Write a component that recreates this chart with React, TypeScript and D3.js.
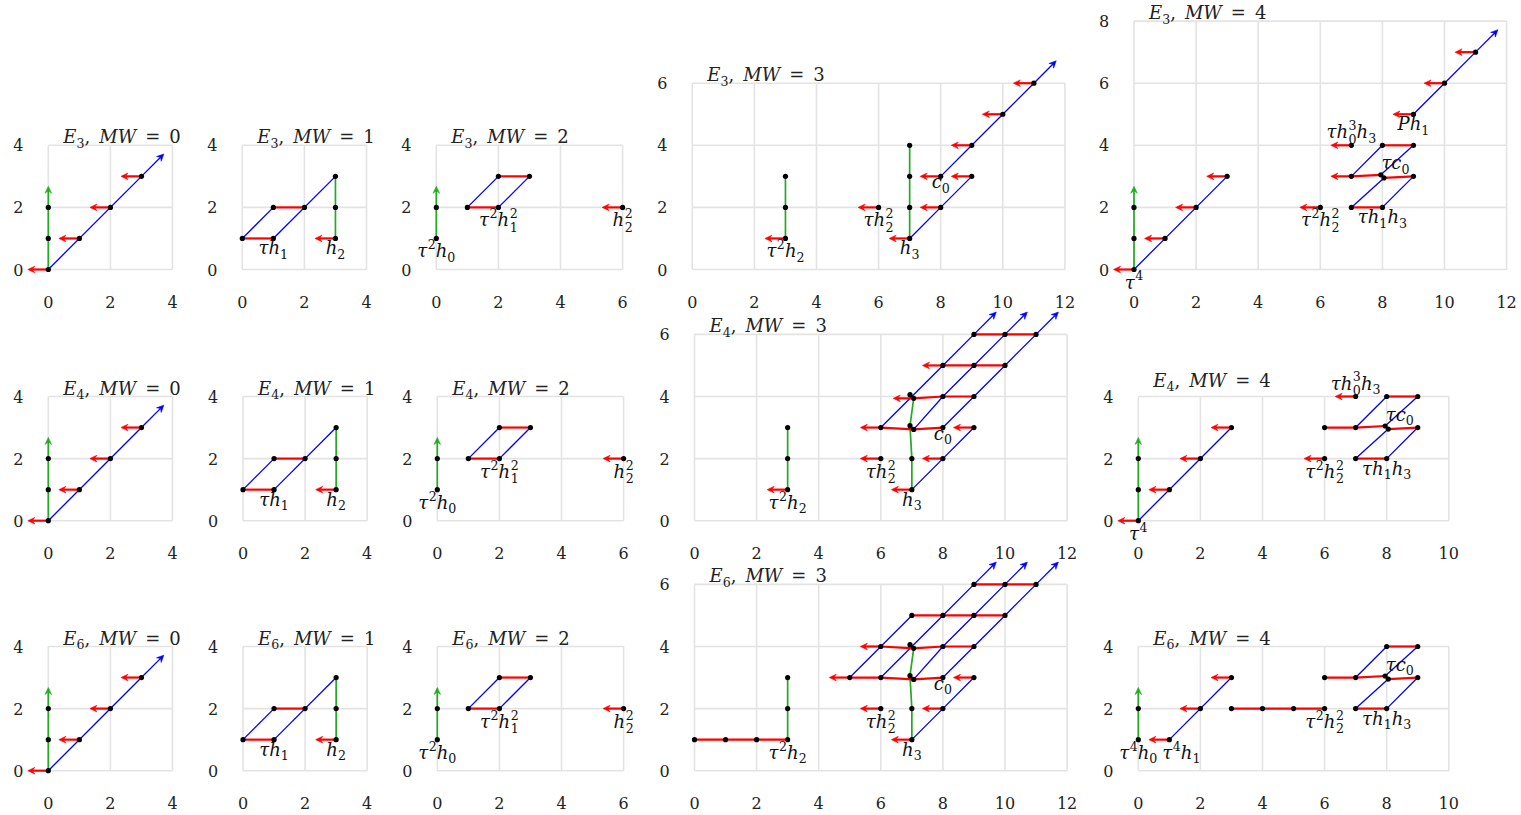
import React from 'react';
import * as d3 from 'd3';

type Pt = [number, number];
type Label = [number, number, string];

// two classes sharing one (stem, filtration) spot are drawn slightly apart
const A: Pt = [6.94, 3.06];
const B: Pt = [7.06, 2.94];
const C: Pt = [6.94, 4.06];
const D: Pt = [7.06, 3.94];
const P: Pt = [7.95, 3.05];
const Q: Pt = [8.05, 2.95];

// ---- MW = 0 (same on E3, E4, E6)
const mw0Dots: Pt[] = [[0, 0], [0, 1], [0, 2], [1, 1], [2, 2], [3, 3]];
const mw0Red: Pt[][] = [];
const mw0Blue: Pt[][] = [[[0, 0], [3, 3]]];
const mw0Green: Pt[][] = [[[0, 0], [0, 2]]];
const mw0RedArrows: Pt[] = [[0, 0], [1, 1], [2, 2], [3, 3]];
const mw0BlueArrows: Pt[] = [[3, 3]];
const mw0GreenArrows: Pt[] = [[0, 2]];
const mw0Labels: Label[] = [];

// ---- MW = 1
const mw1Dots: Pt[] = [[0, 1], [1, 1], [1, 2], [2, 2], [3, 1], [3, 2], [3, 3]];
const mw1Red: Pt[][] = [[[0, 1], [1, 1]], [[1, 2], [2, 2]]];
const mw1Blue: Pt[][] = [[[0, 1], [1, 2]], [[1, 1], [3, 3]]];
const mw1Green: Pt[][] = [[[3, 1], [3, 3]]];
const mw1RedArrows: Pt[] = [[3, 1]];
const mw1Labels: Label[] = [[1, 1, 'τh_1'], [3, 1, 'h_2']];

// ---- MW = 2
const mw2Dots: Pt[] = [[0, 1], [0, 2], [1, 2], [2, 2], [2, 3], [3, 3], [6, 2]];
const mw2Red: Pt[][] = [[[1, 2], [2, 2]], [[2, 3], [3, 3]]];
const mw2Blue: Pt[][] = [[[1, 2], [2, 3]], [[2, 2], [3, 3]]];
const mw2Green: Pt[][] = [[[0, 1], [0, 2]]];
const mw2RedArrows: Pt[] = [[6, 2]];
const mw2GreenArrows: Pt[] = [[0, 2]];
const mw2Labels: Label[] = [[0, 1, 'τ^2h_0'], [2, 2, 'τ^2h_1^2'], [6, 2, 'h_2^2']];

// ---- MW = 3
const mw3Labels: Label[] = [[3, 1, 'τ^2h_2'], [6, 2, 'τh_2^2'], [7, 1, 'h_3'], [8, 3, 'c_0']];

const e3mw3Dots: Pt[] = [[3, 1], [3, 2], [3, 3], [6, 2], [7, 1], [7, 2], [7, 3], [7, 4], [8, 2], [8, 3], [9, 3], [9, 4], [10, 5], [11, 6]];
const e3mw3Red: Pt[][] = [];
const e3mw3Blue: Pt[][] = [[[7, 1], [8, 2], [9, 3]], [[8, 3], [9, 4], [10, 5], [11, 6]]];
const e3mw3Green: Pt[][] = [[[3, 1], [3, 3]], [[7, 1], [7, 4]]];
const e3mw3RedArrows: Pt[] = [[3, 1], [6, 2], [7, 1], [8, 2], [8, 3], [9, 3], [9, 4], [10, 5], [11, 6]];
const e3mw3BlueArrows: Pt[] = [[11, 6]];

const e4mw3Dots: Pt[] = [[3, 1], [3, 2], [3, 3], [6, 2], [7, 1], [7, 2], [8, 2], [9, 3], [6, 3], A, B, [8, 3], C, D, [8, 4], [9, 4], [8, 5], [9, 5], [10, 5], [9, 6], [10, 6], [11, 6]];
const e4mw3Red: Pt[][] = [[[6, 3], B, [8, 3]], [D, [8, 4], [9, 4]], [[8, 5], [9, 5], [10, 5]], [[9, 6], [10, 6], [11, 6]]];
const e4mw3Blue: Pt[][] = [[[7, 1], [8, 2], [9, 3]], [[6, 3], [7, 4], [8, 5], [9, 6]], [B, [8, 4], [9, 5], [10, 6]], [[8, 3], [9, 4], [10, 5], [11, 6]]];
const e4mw3Green: Pt[][] = [[[3, 1], [3, 3]], [[7, 1], [7, 2], A, D]];
const e4mw3RedArrows: Pt[] = [[3, 1], [6, 2], [7, 1], [8, 2], [9, 3], [6, 3], D, [8, 5]];
const e4mw3BlueArrows: Pt[] = [[9, 6], [10, 6], [11, 6]];

const e6mw3Dots: Pt[] = [[0, 1], [1, 1], [2, 1], [3, 1], [3, 2], [3, 3], [5, 3], [6, 2], [6, 3], [6, 4], [7, 1], [7, 2], A, B, C, D, [7, 5], [8, 2], [8, 3], [8, 4], [8, 5], [9, 3], [9, 4], [9, 5], [9, 6], [10, 5], [10, 6], [11, 6]];
const e6mw3Red: Pt[][] = [[[0, 1], [1, 1], [2, 1], [3, 1]], [[5, 3], [6, 3], B, [8, 3]], [[6, 4], D, [8, 4], [9, 4]], [[7, 5], [8, 5], [9, 5], [10, 5]], [[9, 6], [10, 6], [11, 6]]];
const e6mw3Blue: Pt[][] = [[[7, 1], [8, 2], [9, 3]], [[5, 3], [6, 4], [7, 5]], [[6, 3], [7, 4], [8, 5], [9, 6]], [B, [8, 4], [9, 5], [10, 6]], [[8, 3], [9, 4], [10, 5], [11, 6]]];
const e6mw3Green: Pt[][] = [[[3, 1], [3, 3]], [[7, 1], [7, 2], A, D]];
const e6mw3RedArrows: Pt[] = [[5, 3], [6, 2], [6, 4], [7, 1], [8, 2], [9, 3]];
const e6mw3BlueArrows: Pt[] = [[9, 6], [10, 6], [11, 6]];

// ---- MW = 4
const e3mw4Dots: Pt[] = [[0, 0], [0, 1], [0, 2], [1, 1], [2, 2], [3, 3], [6, 2], [7, 2], [8, 2], [7, 3], P, Q, [9, 3], [7, 4], [8, 4], [9, 4], [9, 5], [10, 6], [11, 7]];
const e3mw4Red: Pt[][] = [[[7, 2], [8, 2]], [[7, 3], P], [Q, [9, 3]], [[8, 4], [9, 4]]];
const e3mw4Blue: Pt[][] = [[[0, 0], [3, 3]], [[7, 2], Q], [[8, 2], [9, 3]], [[7, 3], [8, 4]], [P, [9, 4]], [[9, 5], [10, 6], [11, 7]]];
const e3mw4Green: Pt[][] = [[[0, 0], [0, 2]]];
const e3mw4RedArrows: Pt[] = [[0, 0], [1, 1], [2, 2], [3, 3], [6, 2], [7, 3], [7, 4], [9, 5], [10, 6], [11, 7]];
const e3mw4BlueArrows: Pt[] = [[11, 7]];
const e3mw4GreenArrows: Pt[] = [[0, 2]];
const e3mw4Labels: Label[] = [[0, 0, 'τ^4'], [7, 4, 'τh_0^3h_3'], [9, 5, 'Ph_1'], [8, 3, 'τc_0'], [6, 2, 'τ^2h_2^2'], [8, 2, 'τh_1h_3']];

const e4mw4Dots: Pt[] = [[0, 0], [0, 1], [0, 2], [1, 1], [2, 2], [3, 3], [6, 2], [7, 2], [8, 2], [6, 3], [7, 3], P, Q, [9, 3], [7, 4], [8, 4], [9, 4]];
const e4mw4Red: Pt[][] = [[[7, 2], [8, 2]], [[6, 3], [7, 3], P], [Q, [9, 3]], [[8, 4], [9, 4]]];
const e4mw4Blue: Pt[][] = [[[0, 0], [3, 3]], [[7, 2], Q], [[8, 2], [9, 3]], [[7, 3], [8, 4]], [P, [9, 4]]];
const e4mw4Green: Pt[][] = [[[0, 0], [0, 2]]];
const e4mw4RedArrows: Pt[] = [[0, 0], [1, 1], [2, 2], [3, 3], [6, 2], [7, 4]];
const e4mw4GreenArrows: Pt[] = [[0, 2]];
const e4mw4Labels: Label[] = [[0, 0, 'τ^4'], [7, 4, 'τh_0^3h_3'], [8, 3, 'τc_0'], [6, 2, 'τ^2h_2^2'], [8, 2, 'τh_1h_3']];

const e6mw4Dots: Pt[] = [[0, 1], [0, 2], [1, 1], [2, 2], [3, 3], [3, 2], [4, 2], [5, 2], [6, 2], [7, 2], [8, 2], [6, 3], [7, 3], P, Q, [9, 3], [8, 4], [9, 4]];
const e6mw4Red: Pt[][] = [[[3, 2], [4, 2], [5, 2], [6, 2]], [[7, 2], [8, 2]], [[6, 3], [7, 3], P], [Q, [9, 3]], [[8, 4], [9, 4]]];
const e6mw4Blue: Pt[][] = [[[1, 1], [3, 3]], [[7, 2], Q], [[8, 2], [9, 3]], [[7, 3], [8, 4]], [P, [9, 4]]];
const e6mw4Green: Pt[][] = [[[0, 1], [0, 2]]];
const e6mw4RedArrows: Pt[] = [[1, 1], [2, 2], [3, 3]];
const e6mw4GreenArrows: Pt[] = [[0, 2]];
const e6mw4Labels: Label[] = [[0, 1, 'τ^4h_0'], [1, 1, 'τ^4h_1'], [6, 2, 'τ^2h_2^2'], [8, 2, 'τh_1h_3'], [8, 3, 'τc_0']];

// where a label sits relative to its dot (default: centred below)
const labelPlace: Record<string, { pos: string; dx?: number }> = {
  'τh_0^3h_3': { pos: 'above' },
  'τc_0': { pos: 'aboveRight' },
  'τ^4h_1': { pos: 'below', dx: 12 },
};

type Chart = {
  dots: Pt[]; red: Pt[][]; blue: Pt[][]; green: Pt[][];
  redArrows: Pt[]; blueArrows: Pt[]; greenArrows: Pt[]; labels: Label[];
};

const mw0: Chart = { dots: mw0Dots, red: mw0Red, blue: mw0Blue, green: mw0Green, redArrows: mw0RedArrows, blueArrows: mw0BlueArrows, greenArrows: mw0GreenArrows, labels: mw0Labels };
const mw1: Chart = { dots: mw1Dots, red: mw1Red, blue: mw1Blue, green: mw1Green, redArrows: mw1RedArrows, blueArrows: [], greenArrows: [], labels: mw1Labels };
const mw2: Chart = { dots: mw2Dots, red: mw2Red, blue: mw2Blue, green: mw2Green, redArrows: mw2RedArrows, blueArrows: [], greenArrows: mw2GreenArrows, labels: mw2Labels };
const e3mw3: Chart = { dots: e3mw3Dots, red: e3mw3Red, blue: e3mw3Blue, green: e3mw3Green, redArrows: e3mw3RedArrows, blueArrows: e3mw3BlueArrows, greenArrows: [], labels: mw3Labels };
const e4mw3: Chart = { dots: e4mw3Dots, red: e4mw3Red, blue: e4mw3Blue, green: e4mw3Green, redArrows: e4mw3RedArrows, blueArrows: e4mw3BlueArrows, greenArrows: [], labels: mw3Labels };
const e6mw3: Chart = { dots: e6mw3Dots, red: e6mw3Red, blue: e6mw3Blue, green: e6mw3Green, redArrows: e6mw3RedArrows, blueArrows: e6mw3BlueArrows, greenArrows: [], labels: mw3Labels };
const e3mw4: Chart = { dots: e3mw4Dots, red: e3mw4Red, blue: e3mw4Blue, green: e3mw4Green, redArrows: e3mw4RedArrows, blueArrows: e3mw4BlueArrows, greenArrows: e3mw4GreenArrows, labels: e3mw4Labels };
const e4mw4: Chart = { dots: e4mw4Dots, red: e4mw4Red, blue: e4mw4Blue, green: e4mw4Green, redArrows: e4mw4RedArrows, blueArrows: [], greenArrows: e4mw4GreenArrows, labels: e4mw4Labels };
const e6mw4: Chart = { dots: e6mw4Dots, red: e6mw4Red, blue: e6mw4Blue, green: e6mw4Green, redArrows: e6mw4RedArrows, blueArrows: [], greenArrows: e6mw4GreenArrows, labels: e6mw4Labels };

const U = 31.05; // px per unit
const panels = [
  { page: 3, mw: 0, left: 48.3, bottom: 269.5, xMax: 4, yMax: 4, chart: mw0 },
  { page: 3, mw: 1, left: 242.3, bottom: 269.5, xMax: 4, yMax: 4, chart: mw1 },
  { page: 3, mw: 2, left: 436.3, bottom: 269.5, xMax: 6, yMax: 4, chart: mw2 },
  { page: 3, mw: 3, left: 692.3, bottom: 269.5, xMax: 12, yMax: 6, chart: e3mw3 },
  { page: 3, mw: 4, left: 1134, bottom: 269.5, xMax: 12, yMax: 8, chart: e3mw4 },
  { page: 4, mw: 0, left: 48.3, bottom: 520.7, xMax: 4, yMax: 4, chart: mw0 },
  { page: 4, mw: 1, left: 243, bottom: 520.7, xMax: 4, yMax: 4, chart: mw1 },
  { page: 4, mw: 2, left: 437.3, bottom: 520.7, xMax: 6, yMax: 4, chart: mw2 },
  { page: 4, mw: 3, left: 694.5, bottom: 520.7, xMax: 12, yMax: 6, chart: e4mw3 },
  { page: 4, mw: 4, left: 1138.3, bottom: 520.7, xMax: 10, yMax: 4, chart: e4mw4, lift: 8 },
  { page: 6, mw: 0, left: 48.3, bottom: 770.7, xMax: 4, yMax: 4, chart: mw0 },
  { page: 6, mw: 1, left: 243, bottom: 770.7, xMax: 4, yMax: 4, chart: mw1 },
  { page: 6, mw: 2, left: 437.3, bottom: 770.7, xMax: 6, yMax: 4, chart: mw2 },
  { page: 6, mw: 3, left: 694.5, bottom: 770.7, xMax: 12, yMax: 6, chart: e6mw3 },
  { page: 6, mw: 4, left: 1138.3, bottom: 770.7, xMax: 10, yMax: 4, chart: e6mw4 },
];

const FONT = '"DejaVu Serif", serif';
const RED = '#ff0000';
const BLUE = '#0000ff';
const GREEN = '#22aa22';
const SP = '\u2002'; // wider math spacing in titles

type Tok = { base: string; sup?: string; sub?: string };
function parseTex(tex: string): Tok[] {
  const toks: Tok[] = [];
  for (let i = 0; i < tex.length; i++) {
    const c = tex[i];
    if (c === '^') toks[toks.length - 1].sup = tex[++i];
    else if (c === '_') toks[toks.length - 1].sub = tex[++i];
    else toks.push({ base: c });
  }
  return toks;
}

function mathSpans(toks: Tok[], fs: number) {
  const sfs = fs * 0.7;
  const up = fs * 0.45;
  const down = fs * 0.25;
  const out: React.ReactNode[] = [];
  let cur = 0;
  toks.forEach((t, i) => {
    const ital = /[A-Za-zτ]/.test(t.base);
    out.push(<tspan key={i + 'b'} dy={-cur} fontSize={fs} fontStyle={ital ? 'italic' : 'normal'}>{t.base}</tspan>);
    cur = 0;
    if (t.sup) {
      out.push(<tspan key={i + 'p'} dx={0.5} dy={-up - cur} fontSize={sfs} fontStyle="normal">{t.sup}</tspan>);
      cur = -up;
    }
    if (t.sub) {
      const d = t.sup ? fs * 0.32 : down;
      out.push(<tspan key={i + 's'} dx={t.sup ? -sfs * 0.636 : 0} dy={d - cur} fontSize={sfs} fontStyle="normal">{t.sub}</tspan>);
      cur = d;
    }
  });
  return out;
}

function Arrow({ x1, y1, x2, y2, color, w }: { x1: number; y1: number; x2: number; y2: number; color: string; w: number }) {
  const len = Math.hypot(x2 - x1, y2 - y1);
  const ux = (x2 - x1) / len, uy = (y2 - y1) / len;
  const nx = -uy, ny = ux;
  const hl = 7, hw = 3.3;
  const bx = x2 - ux * hl, by = y2 - uy * hl;
  const mx = x2 - ux * hl * 0.65, my = y2 - uy * hl * 0.65;
  return (
    <g>
      <line x1={x1} y1={y1} x2={mx} y2={my} stroke={color} strokeWidth={w} />
      <path d={`M${x2},${y2}L${bx + nx * hw},${by + ny * hw}L${mx},${my}L${bx - nx * hw},${by - ny * hw}Z`} fill={color} stroke={color} strokeWidth={0.6} />
    </g>
  );
}

function Panel({ cfg }: { cfg: typeof panels[number] }) {
  const { left, bottom, xMax, yMax, chart } = cfg;
  const x = d3.scaleLinear().domain([0, xMax]).range([left, left + xMax * U]);
  const y = d3.scaleLinear().domain([0, yMax]).range([bottom, bottom - yMax * U]);
  const xt = d3.range(0, xMax + 1, 2);
  const yt = d3.range(0, yMax + 1, 2);
  const line = d3.line<Pt>().x(d => x(d[0])).y(d => y(d[1]));
  const top = y(yMax);
  const titleToks = parseTex(`E_${cfg.page},${SP}MW${SP}=${SP}${cfg.mw}`);

  return (
    <g>
      {xt.map(t => <line key={'gx' + t} x1={x(t)} x2={x(t)} y1={y(0)} y2={top} stroke="#e3e3e3" strokeWidth={1.6} />)}
      {yt.map(t => <line key={'gy' + t} x1={x(0)} x2={x(xMax)} y1={y(t)} y2={y(t)} stroke="#e3e3e3" strokeWidth={1.6} />)}
      {xt.map(t => <text key={'tx' + t} x={x(t)} y={bottom + 38} textAnchor="middle" fontSize={16} fontFamily={FONT} fill="#222">{t}</text>)}
      {yt.map(t => <text key={'ty' + t} x={left - 30} y={y(t) + 6} textAnchor="middle" fontSize={16} fontFamily={FONT} fill="#222">{t}</text>)}
      <text x={left + 15} y={top - 2 - (cfg.lift || 0)} fontFamily={FONT} fill="#222" style={{ whiteSpace: 'pre' }}>
        {mathSpans(titleToks, 18)}
      </text>

      {chart.green.map((p, i) => <path key={'g' + i} d={line(p) || ''} fill="none" stroke={GREEN} strokeWidth={1.7} />)}
      {chart.blue.map((p, i) => <path key={'b' + i} d={line(p) || ''} fill="none" stroke={BLUE} strokeWidth={1.3} />)}
      {chart.red.map((p, i) => <path key={'r' + i} d={line(p) || ''} fill="none" stroke={RED} strokeWidth={2.2} />)}

      {chart.greenArrows.map((p, i) => <Arrow key={'ga' + i} x1={x(p[0])} y1={y(p[1])} x2={x(p[0])} y2={y(p[1] + 0.68)} color={GREEN} w={1.7} />)}
      {chart.blueArrows.map((p, i) => <Arrow key={'ba' + i} x1={x(p[0])} y1={y(p[1])} x2={x(p[0] + 0.72)} y2={y(p[1] + 0.72)} color={BLUE} w={1.3} />)}
      {chart.redArrows.map((p, i) => <Arrow key={'ra' + i} x1={x(p[0])} y1={y(p[1])} x2={x(p[0] - 0.66)} y2={y(p[1])} color={RED} w={2.2} />)}

      {chart.dots.map((p, i) => <circle key={'d' + i} cx={x(p[0])} cy={y(p[1])} r={2.6} fill="#000" />)}

      {chart.labels.map(([lx, ly, tex], i) => {
        const toks = parseTex(tex);
        const hasSup = toks.some(t => t.sup);
        const hasSub = toks.some(t => t.sub);
        const hasAsc = toks.some(t => /[A-Zh]/.test(t.base));
        const topExt = hasSup ? 15 : hasAsc ? 12 : 8;
        const botExt = hasSub ? 4 : 0;
        const place = labelPlace[tex] || { pos: 'below' };
        const px = x(lx) + (place.dx || 0);
        const py = y(ly);
        let ty = py + 4 + topExt;
        let anchor = 'middle';
        let tx = px;
        if (place.pos === 'above') ty = py - 3 - botExt;
        if (place.pos === 'aboveRight') { ty = py - 3 - botExt; anchor = 'start'; tx = px - 1; }
        return (
          <text key={'l' + i} x={tx} y={ty} textAnchor={anchor} fontFamily={FONT} fill="#111">
            {mathSpans(toks, 18)}
          </text>
        );
      })}
    </g>
  );
}

export default function App() {
  return (
    <svg width={1521} height={815} style={{ position: 'absolute', left: 0, top: 0, background: '#fff' }}>
      {panels.map((cfg, i) => <Panel key={i} cfg={cfg} />)}
    </svg>
  );
}
